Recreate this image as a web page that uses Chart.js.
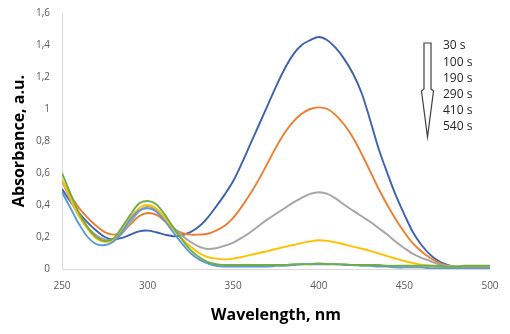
<!DOCTYPE html>
<html>
<head>
<meta charset="utf-8">
<script src="https://cdn.jsdelivr.net/npm/chart.js@4"></script>
<style>
  html, body { margin: 0; padding: 0; background: #fff; }
  #wrap { width: 510px; height: 334px; }
</style>
</head>
<body>
<div id="wrap"><canvas id="myChart" width="510" height="334"></canvas></div>
<script>
// wavelength axis (nm)
const wavelengths = [250, 255, 260, 265, 270, 275, 280, 285, 290, 295, 300, 305, 310, 315, 320, 325, 330, 335, 340, 345,
  350, 355, 360, 365, 370, 375, 380, 385, 390, 395, 400, 405, 410, 415, 420, 425, 430, 435, 440, 445,
  450, 455, 460, 465, 470, 475, 480, 485, 490, 495, 500];

// time labels for the arrow legend
const timeLabels = ["30 s", "100 s", "190 s", "290 s", "410 s", "540 s"];
const seriesColors = ["#3C62B0", "#ED7D31", "#A5A5A5", "#FFC000", "#5B9BD5", "#70AD47"];

// absorbance for each time
const abs30 = [0.50, 0.42, 0.35, 0.29, 0.24, 0.20, 0.185, 0.195, 0.215, 0.235, 0.24, 0.23, 0.215, 0.205, 0.21, 0.23, 0.265, 0.32, 0.39, 0.465,
  0.55, 0.66, 0.78, 0.90, 1.02, 1.14, 1.25, 1.34, 1.40, 1.43, 1.45, 1.43, 1.38, 1.31, 1.22, 1.10, 0.93, 0.75, 0.60, 0.46,
  0.34, 0.23, 0.15, 0.09, 0.05, 0.025, 0.015, 0.01, 0.01, 0.01, 0.01];
const abs100 = [0.55, 0.46, 0.38, 0.32, 0.27, 0.23, 0.215, 0.23, 0.28, 0.33, 0.35, 0.34, 0.30, 0.255, 0.225, 0.215, 0.215, 0.22, 0.24, 0.27,
  0.32, 0.39, 0.47, 0.56, 0.66, 0.76, 0.85, 0.92, 0.97, 1.00, 1.01, 1.00, 0.96, 0.90, 0.82, 0.72, 0.61, 0.50, 0.40, 0.31,
  0.23, 0.16, 0.11, 0.07, 0.04, 0.02, 0.015, 0.01, 0.01, 0.01, 0.01];
const abs190 = [0.55, 0.43, 0.33, 0.26, 0.21, 0.185, 0.185, 0.22, 0.29, 0.36, 0.39, 0.37, 0.32, 0.26, 0.21, 0.17, 0.14, 0.125, 0.13, 0.145,
  0.165, 0.195, 0.23, 0.27, 0.31, 0.345, 0.38, 0.415, 0.445, 0.47, 0.48, 0.47, 0.44, 0.40, 0.365, 0.33, 0.295, 0.255, 0.215, 0.17,
  0.13, 0.095, 0.07, 0.05, 0.03, 0.02, 0.015, 0.015, 0.015, 0.015, 0.015];
const abs290 = [0.56, 0.44, 0.33, 0.25, 0.19, 0.17, 0.18, 0.24, 0.32, 0.38, 0.40, 0.38, 0.32, 0.25, 0.19, 0.14, 0.10, 0.075, 0.065, 0.06,
  0.065, 0.075, 0.087, 0.10, 0.112, 0.125, 0.138, 0.15, 0.162, 0.173, 0.18, 0.176, 0.166, 0.153, 0.14, 0.127, 0.113, 0.097, 0.08, 0.065,
  0.05, 0.037, 0.027, 0.02, 0.016, 0.015, 0.015, 0.015, 0.015, 0.015, 0.015];
const abs410 = [0.48, 0.38, 0.28, 0.20, 0.155, 0.15, 0.17, 0.23, 0.31, 0.365, 0.38, 0.36, 0.30, 0.23, 0.16, 0.10, 0.06, 0.035, 0.02, 0.015,
  0.015, 0.015, 0.015, 0.015, 0.015, 0.02, 0.02, 0.025, 0.03, 0.03, 0.03, 0.03, 0.03, 0.025, 0.025, 0.02, 0.02, 0.015, 0.015, 0.01,
  0.01, 0.01, 0.01, 0.005, 0.005, 0.005, 0.005, 0.005, 0.005, 0.005, 0.005];
const abs540 = [0.60, 0.47, 0.35, 0.26, 0.20, 0.175, 0.19, 0.26, 0.34, 0.41, 0.425, 0.405, 0.34, 0.26, 0.185, 0.12, 0.075, 0.045, 0.03, 0.025,
  0.025, 0.025, 0.025, 0.025, 0.025, 0.025, 0.025, 0.03, 0.03, 0.03, 0.035, 0.03, 0.03, 0.03, 0.025, 0.025, 0.025, 0.025, 0.02, 0.02,
  0.02, 0.02, 0.02, 0.02, 0.02, 0.015, 0.015, 0.02, 0.02, 0.02, 0.02];

const allSeries = [abs30, abs100, abs190, abs290, abs410, abs540];

const datasets = allSeries.map((ys, i) => ({
  label: timeLabels[i],
  data: wavelengths.map((x, j) => ({ x: x, y: ys[j] })),
  borderColor: seriesColors[i],
  borderWidth: 1.9,
  pointRadius: 0,
  fill: false,
  tension: 0.35,
  order: allSeries.length - i, // last series on top, like Excel
}));

// arrow + time labels on the right
const arrowLegend = {
  id: "arrowLegend",
  afterDatasetsDraw(chart) {
    const ctx = chart.ctx;
    const ox = 424, oy = 43;
    ctx.save();
    ctx.beginPath();
    ctx.moveTo(ox, oy);
    ctx.lineTo(ox + 7, oy);
    ctx.lineTo(ox + 7, oy + 46);
    ctx.lineTo(ox + 9.5, oy + 48);
    ctx.lineTo(ox + 3.5, oy + 94);
    ctx.lineTo(ox - 2.5, oy + 48);
    ctx.lineTo(ox, oy + 46);
    ctx.closePath();
    ctx.fillStyle = "#fff";
    ctx.fill();
    ctx.strokeStyle = "#404040";
    ctx.lineWidth = 1.2;
    ctx.stroke();

    ctx.fillStyle = "#262626";
    ctx.font = "12px 'Open Sans'";
    ctx.textAlign = "left";
    ctx.textBaseline = "middle";
    timeLabels.forEach((t, i) => {
      ctx.fillText(t, 443, 46 + i * 16.2);
    });
    ctx.restore();
  },
};

const ctx = document.getElementById("myChart").getContext("2d");
new Chart(ctx, {
  type: "line",
  data: { datasets: datasets },
  plugins: [arrowLegend],
  options: {
    responsive: false,
    animation: false,
    layout: { padding: { top: 13, right: 20, left: 0, bottom: 0 } },
    plugins: {
      legend: { display: false },
      tooltip: { enabled: false },
    },
    scales: {
      x: {
        type: "linear",
        min: 250,
        max: 500,
        afterFit: (scale) => { scale.height = 65; },
        grid: { display: false, drawTicks: false },
        border: { display: true, color: "#d9d9d9", width: 1 },
        ticks: {
          stepSize: 50,
          padding: 11,
          color: "#595959",
          font: { family: "'Open Sans'", size: 10 },
        },
        title: {
          display: true,
          text: "Wavelength, nm",
          color: "#000",
          font: { family: "'Open Sans'", size: 16, weight: "bold" },
          padding: { top: 0, bottom: 9 },
        },
      },
      y: {
        min: 0,
        max: 1.6,
        afterFit: (scale) => {
          scale.width = 62;
          scale.paddingTop = 0;
          scale.paddingBottom = 0;
        },
        grid: { display: false, drawTicks: false },
        border: { display: true, color: "#d9d9d9", width: 1 },
        ticks: {
          stepSize: 0.2,
          padding: 12,
          color: "#595959",
          font: { family: "'Open Sans'", size: 10 },
          callback: function (value) {
            // comma decimals like the original
            return String(Math.round(value * 10) / 10).replace(".", ",");
          },
        },
        title: {
          display: true,
          text: "Absorbance, a.u.",
          color: "#000",
          font: { family: "'Open Sans'", size: 16, weight: "bold" },
          padding: { top: 10, bottom: 0 },
        },
      },
    },
  },
});
</script>
</body>
</html>
